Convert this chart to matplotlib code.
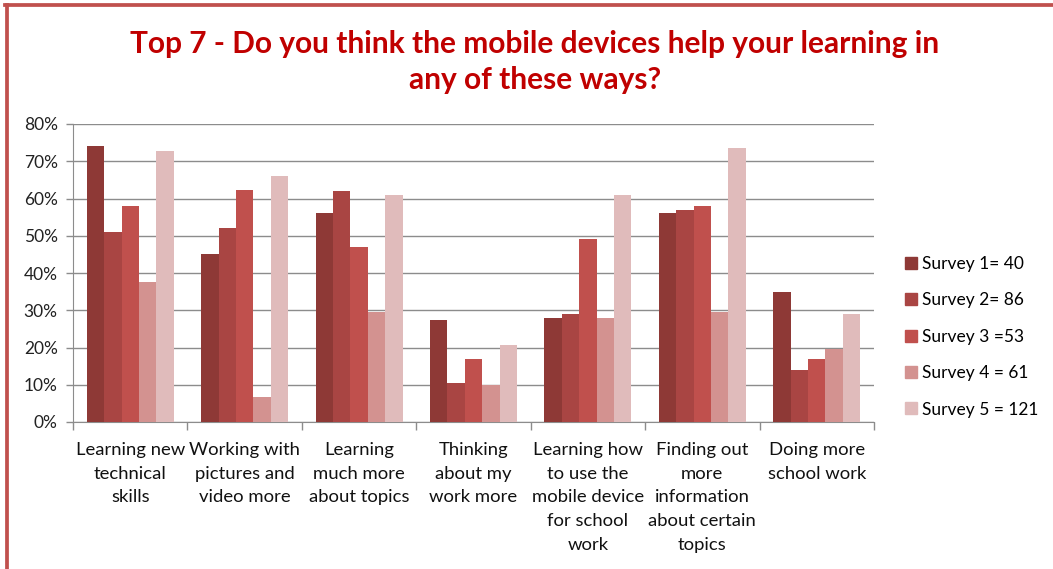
import matplotlib.pyplot as plt
import numpy as np
from matplotlib.lines import Line2D

categories = [
    "Learning new\ntechnical\nskills",
    "Working with\npictures and\nvideo more",
    "Learning\nmuch more\nabout topics",
    "Thinking\nabout my\nwork more",
    "Learning how\nto use the\nmobile device\nfor school\nwork",
    "Finding out\nmore\ninformation\nabout certain\ntopics",
    "Doing more\nschool work",
]
series_names = ["Survey 1= 40", "Survey 2= 86", "Survey 3 =53", "Survey 4 = 61", "Survey 5 = 121"]
survey1 = [74.0, 45.0, 56.0, 27.5, 28.0, 56.0, 35.0]
survey2 = [51.0, 52.0, 62.0, 10.5, 29.0, 57.0, 14.0]
survey3 = [58.0, 62.3, 47.0, 17.0, 49.0, 58.0, 17.0]
survey4 = [37.5, 6.7, 29.5, 10.0, 28.0, 29.5, 19.5]
survey5 = [72.8, 66.0, 61.0, 20.6, 61.0, 73.5, 29.0]
colors = ["#8E3936", "#A94543", "#C0504D", "#D39290", "#E0BBBB"]

plt.rcParams['font.family'] = ['Lato', 'DejaVu Sans']

fig = plt.figure(figsize=(10.53, 5.69), dpi=100)
ax = fig.add_axes([73 / 1053, 1 - 422 / 569, (874 - 73) / 1053, (422 - 124) / 569])

data = [survey1, survey2, survey3, survey4, survey5]
x = np.arange(len(categories))
w = 0.152
for i, vals in enumerate(data):
    ax.bar(x + (i - 2) * w, vals, width=w, color=colors[i], label=series_names[i], zorder=3)

ax.set_xlim(-0.5, len(categories) - 0.5)
ax.set_ylim(0, 80)
ax.set_yticks(range(0, 81, 10))
ax.set_yticklabels([f"{v}%" for v in range(0, 81, 10)], fontsize=12.5, color="#222222")
ax.yaxis.grid(True, color="#8C8C8C", linewidth=1, zorder=0)

# category labels at group centres, tick marks between groups
ax.set_xticks(np.arange(-0.5, len(categories), 1))
ax.set_xticklabels([])
ax.tick_params(axis='x', length=6, color="#8C8C8C", width=1)
ax.tick_params(axis='y', length=5, color="#8C8C8C", width=1, pad=6)
for xi, lab in zip(x, categories):
    ax.text(xi, -5.3, lab, ha='center', va='top', fontsize=13.3, color="#111111",
            linespacing=1.6, transform=ax.transData)

for s in ['top', 'right']:
    ax.spines[s].set_visible(False)
ax.spines['left'].set_color("#8C8C8C")
ax.spines['bottom'].set_color("#8C8C8C")

handles = [Line2D([], [], marker='s', linestyle='none', markersize=9,
                  markerfacecolor=c, markeredgecolor=c) for c in colors]
fig.legend(handles, series_names, loc='upper left', bbox_to_anchor=(887 / 1053, 1 - 240 / 569),
           frameon=False, fontsize=12.5, handletextpad=0.1, labelspacing=1.18,
           handlelength=1.0)

fig.text(535 / 1053, 1 - 62 / 569,
         "Top 7 - Do you think the mobile devices help your learning in\nany of these ways?",
         ha='center', va='center', fontsize=21.5, fontweight='bold', color="#C00000",
         linespacing=1.35)

# red frame around the chart (top and left edges visible)
fig.add_artist(Line2D([6.5 / 1053, 6.5 / 1053], [0, 1 - 4.5 / 569], color="#C0504D", linewidth=2.7))
fig.add_artist(Line2D([5 / 1053, 1], [1 - 4.5 / 569, 1 - 4.5 / 569], color="#C0504D", linewidth=2.7))

fig.savefig("out.png", dpi=100)
